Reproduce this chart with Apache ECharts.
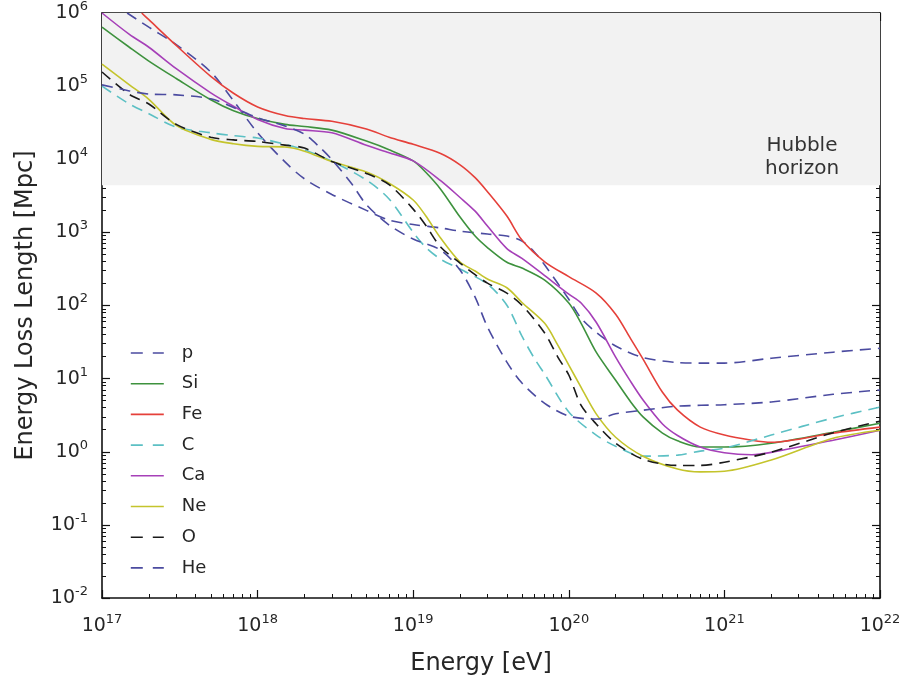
<!DOCTYPE html>
<html>
<head>
<meta charset="utf-8">
<title>Energy loss length</title>
<script src="https://cdn.jsdelivr.net/npm/echarts@6/dist/echarts.min.js"></script>
<style>
  html, body { margin: 0; padding: 0; background: #fff; }
  #chart { width: 906px; height: 688px; }
</style>
</head>
<body>
<div id="chart"></div>
<script>
// [energy in eV, energy loss length in Mpc]
const p = [
    [1.45e17, 1.0e6], [2e17, 6.4e5], [3e17, 3.7e5], [5e17, 1.56e5], [7e17, 6.3e4],
    [1e18, 2.3e4], [1.5e18, 9.2e3], [2e18, 5.4e3], [3e18, 3.3e3], [5e18, 2.0e3],
    [7e18, 1.47e3], [1e19, 1.28e3], [1.5e19, 1.15e3], [2e19, 1.04e3], [3e19, 950],
    [4e19, 890], [5e19, 760], [6e19, 540], [7e19, 357], [1e20, 122], [1.2e20, 67],
    [1.5e20, 43], [2e20, 28], [3e20, 19.4], [5e20, 16.6], [7e20, 16.3], [1e21, 16.3],
    [2e21, 19], [5e21, 23], [1e22, 26]
]
const Si = [
    [1e17, 6.4e5], [1.5e17, 3.4e5], [2e17, 2.2e5], [3e17, 1.27e5], [5e17, 6.5e4],
    [7e17, 4.6e4], [1e18, 3.6e4], [1.5e18, 3.0e4], [2e18, 2.8e4], [3e18, 2.5e4],
    [5e18, 1.77e4], [7e18, 1.35e4], [1e19, 9.5e3], [1.2e19, 6.7e3], [1.5e19, 3.9e3],
    [2e19, 1.62e3], [2.5e19, 890], [3e19, 620], [4e19, 390], [5e19, 325], [7e19, 222],
    [1e20, 108], [1.2e20, 57], [1.5e20, 23], [2e20, 9.5], [2.5e20, 4.8], [3e20, 3.0],
    [4e20, 1.8], [5e20, 1.41], [7e20, 1.16], [1e21, 1.16], [2e21, 1.31], [5e21, 1.85],
    [1e22, 2.46]
]
const Fe = [
    [1.8e17, 1.0e6], [2e17, 8.1e5], [3e17, 3.6e5], [5e17, 1.36e5], [7e17, 8.0e4],
    [1e18, 5.2e4], [1.5e18, 3.96e4], [2e18, 3.6e4], [3e18, 3.3e4], [5e18, 2.6e4],
    [7e18, 2.0e4], [1e19, 1.6e4], [1.5e19, 1.2e4], [2e19, 8.4e3], [2.5e19, 5.6e3],
    [3e19, 3.6e3], [4e19, 1.67e3], [5e19, 785], [7e19, 396], [1e20, 248], [1.5e20, 148],
    [2e20, 76], [2.5e20, 35], [3e20, 18.5], [4e20, 6.5], [5e20, 3.7], [7e20, 2.17],
    [1e21, 1.69], [1.5e21, 1.44], [2e21, 1.35], [5e21, 1.8], [1e22, 2.17]
]
const C = [
    [1e17, 1.0e5], [1.5e17, 5.7e4], [2e17, 4.2e4], [3e17, 2.75e4], [5e17, 2.3e4],
    [7e17, 2.1e4], [1e18, 1.95e4], [1.5e18, 1.6e4], [2e18, 1.34e4], [3e18, 9.4e3],
    [5e18, 5.2e3], [7e18, 2.86e3], [1e19, 1.0e3], [1.2e19, 630], [1.5e19, 430],
    [2e19, 315], [3e19, 196], [4e19, 101], [5e19, 38], [6e19, 19], [7e19, 11.5],
    [1e20, 3.5], [1.5e20, 1.69], [2e20, 1.19], [3e20, 0.87], [5e20, 0.9], [7e20, 1.02],
    [1e21, 1.12], [2e21, 1.69], [5e21, 2.9], [1e22, 4.07]
]
const Ca = [
    [1e17, 1.0e6], [1.5e17, 5.1e5], [2e17, 3.4e5], [3e17, 1.73e5], [5e17, 8.1e4],
    [7e17, 5.3e4], [1e18, 3.5e4], [1.5e18, 2.63e4], [2e18, 2.5e4], [3e18, 2.3e4],
    [5e18, 1.55e4], [7e18, 1.23e4], [1e19, 9.5e3], [1.5e19, 5.1e3], [2e19, 3.0e3],
    [2.5e19, 1.95e3], [3e19, 1.22e3], [4e19, 600], [5e19, 440], [7e19, 256], [1e20, 143],
    [1.2e20, 108], [1.5e20, 59], [2e20, 19.7], [2.5e20, 9.1], [3e20, 5.1], [4e20, 2.4],
    [5e20, 1.67], [7e20, 1.16], [1e21, 0.97], [1.5e21, 0.91], [2e21, 0.98], [5e21, 1.44],
    [1e22, 1.97]
]
const Ne = [
    [1e17, 2.0e5], [1.5e17, 1.04e5], [2e17, 6.6e4], [3e17, 2.9e4], [5e17, 1.87e4],
    [7e17, 1.63e4], [1e18, 1.5e4], [1.5e18, 1.47e4], [2e18, 1.29e4], [3e18, 9.3e3],
    [5e18, 6.7e3], [7e18, 4.7e3], [1e19, 2.77e3], [1.2e19, 1.7e3], [1.5e19, 836],
    [2e19, 393], [2.5e19, 296], [3e19, 230], [4e19, 175], [5e19, 110], [7e19, 57],
    [8.5e19, 28.7], [1e20, 15.3], [1.2e20, 7.6], [1.5e20, 3.3], [2e20, 1.58], [3e20, 0.87],
    [5e20, 0.58], [7e20, 0.53], [1e21, 0.54], [2e21, 0.77], [5e21, 1.53], [1e22, 1.97]
]
const O = [
    [1e17, 1.56e5], [1.5e17, 7.7e4], [2e17, 5.7e4], [3e17, 3.0e4], [5e17, 2.0e4],
    [7e17, 1.84e4], [1e18, 1.75e4], [1.5e18, 1.56e4], [2e18, 1.42e4], [3e18, 9.3e3],
    [5e18, 6.4e3], [7e18, 4.5e3], [1e19, 2.08e3], [1.2e19, 1.26e3], [1.5e19, 630],
    [2e19, 380], [2.5e19, 264], [3e19, 202], [4e19, 148], [5e19, 101], [7e19, 42],
    [8.5e19, 19.7], [1e20, 11.2], [1.2e20, 4.3], [1.5e20, 2.4], [2e20, 1.31], [3e20, 0.79],
    [5e20, 0.65], [7e20, 0.65], [1e21, 0.72], [2e21, 0.99], [5e21, 1.82], [1e22, 2.62]
]
const He = [
    [1e17, 1.04e5], [1.5e17, 8.6e4], [2e17, 7.8e4], [3e17, 7.6e4], [5e17, 6.7e4],
    [7e17, 5.1e4], [1e18, 3.7e4], [1.5e18, 2.85e4], [2e18, 2.2e4], [2.5e18, 1.47e4],
    [3e18, 9.9e3], [4e18, 4.7e3], [5e18, 2.4e3], [7e18, 1.26e3], [1e19, 810],
    [1.5e19, 573], [2e19, 305], [2.5e19, 130], [3e19, 51], [4e19, 16.8], [5e19, 8.7],
    [7e19, 4.6], [1e20, 3.07], [1.5e20, 2.8], [2e20, 3.3], [3e20, 3.7], [5e20, 4.2],
    [1e21, 4.4], [2e21, 4.8], [5e21, 6.1], [1e22, 7.0]
]

const legendNames = ['p', 'Si', 'Fe', 'C', 'Ca', 'Ne', 'O', 'He']
const dashedNames = ['p', 'C', 'O', 'He']
const energyRange = [1e17, 1e22]
const lengthRange = [1e-2, 1e6]
const hubbleHorizon = 4.4e3

const font = 'DejaVu Sans'
const ink = '#262626'
const frame = '#111'

function expLabel(value) {
    const e = Math.round(Math.log10(value))
    return '{b|10}{s|' + e + '}'
}

const tickRich = {
    b: { fontSize: 19, lineHeight: 26, color: ink, fontFamily: font },
    s: { fontSize: 13, lineHeight: 13, verticalAlign: 'top', color: ink, fontFamily: font }
}

function axisBase(range, position, showLabels, margin) {
    return {
        type: 'log',
        logBase: 10,
        min: range[0],
        max: range[1],
        position: position,
        axisLine: { show: true, onZero: false, lineStyle: { color: frame, width: 1.6 } },
        axisTick: { show: true, inside: true, length: 8, lineStyle: { color: frame, width: 1.2 } },
        minorTick: { show: true, splitNumber: 9, length: 4, lineStyle: { color: frame, width: 1 } },
        axisLabel: { show: showLabels, formatter: expLabel, rich: tickRich, margin: margin },
        splitLine: { show: false },
        minorSplitLine: { show: false }
    }
}

function lineSeries(name, data, color, dashed) {
    return {
        name: name,
        type: 'line',
        data: data,
        symbol: 'none',
        smooth: 0.3,
        z: 3,
        lineStyle: { color: color, width: 1.6, type: dashed ? [11, 7] : 'solid' },
        itemStyle: { color: color }
    }
}

const series = [
    lineSeries('p', p, '#4b4ba0', true),
    lineSeries('Si', Si, '#3e923e', false),
    lineSeries('Fe', Fe, '#e5403a', false),
    lineSeries('C', C, '#5cc0c4', true),
    lineSeries('Ca', Ca, '#a640b8', false),
    lineSeries('Ne', Ne, '#c4c42c', false),
    lineSeries('O', O, '#1a1a1a', true),
    lineSeries('He', He, '#4b4ba0', true)
]

// grey band above the Hubble horizon
series[0].markArea = {
    silent: true,
    itemStyle: { color: '#f2f2f2' },
    data: [[
        { xAxis: energyRange[0], yAxis: hubbleHorizon },
        { xAxis: energyRange[1], yAxis: lengthRange[1] }
    ]]
}

const xBottom = axisBase(energyRange, 'bottom', true, 15)
xBottom.name = 'Energy [eV]'
xBottom.nameLocation = 'middle'
xBottom.nameGap = 54
xBottom.nameTextStyle = { fontSize: 24, color: ink, fontFamily: font, padding: [0, 20, 0, 0] }

const yLeft = axisBase(lengthRange, 'left', true, 14)
yLeft.splitNumber = 8
yLeft.name = 'Energy Loss Length [Mpc]'
yLeft.nameLocation = 'middle'
yLeft.nameRotate = 90
yLeft.nameGap = 64
yLeft.nameTextStyle = { fontSize: 24, color: ink, fontFamily: font }

const yRight = axisBase(lengthRange, 'right', false, 14)
yRight.splitNumber = 8

// legend entries: plain line samples, no marker
const legendData = legendNames.map(name => ({
    name: name,
    lineStyle: { width: 1.6, type: dashedNames.includes(name) ? [12, 10] : 'solid' }
}))

const option = {
    animation: false,
    backgroundColor: '#fff',
    grid: { left: 102, right: 26, top: 13, bottom: 90 },
    xAxis: [xBottom, axisBase(energyRange, 'top', false, 15)],
    yAxis: [yLeft, yRight],
    legend: {
        data: legendData,
        orient: 'vertical',
        left: 125,
        top: 338,
        itemWidth: 33,
        itemHeight: 20,
        itemGap: 10.7,
        itemStyle: { opacity: 0 },
        textStyle: { fontSize: 18, lineHeight: 20, color: ink, fontFamily: font, padding: [0, 0, 0, 13] }
    },
    graphic: [{
        type: 'text',
        x: 802,
        y: 157,
        z: 10,
        silent: true,
        style: {
            text: 'Hubble\nhorizon',
            fill: '#333',
            fontSize: 20,
            fontFamily: font,
            lineHeight: 23,
            align: 'center',
            verticalAlign: 'middle'
        }
    }],
    series: series
}

const chart = echarts.init(document.getElementById('chart'))
chart.setOption(option)
</script>
</body>
</html>
